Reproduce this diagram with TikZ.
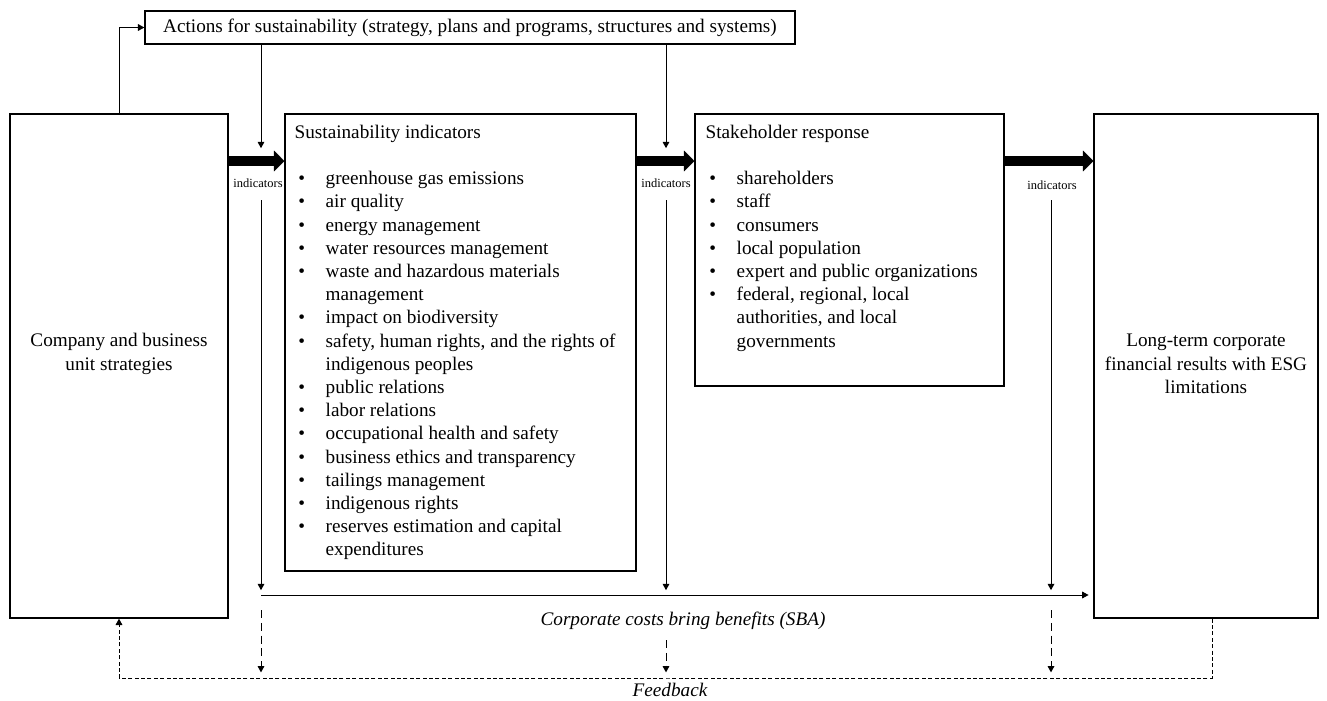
\documentclass[tikz,border=0pt]{standalone}
\usepackage{fontspec}
\setmainfont{Liberation Serif}
\usetikzlibrary{arrows.meta,fit}
\newcommand\basefont{\fontsize{12}{14.5}\selectfont}
\newcommand\bitem{\makebox[19.4pt][l]{\hspace{2.3pt}\textbullet}}
\newcommand\bcont{\hspace*{19.4pt}}
\tikzset{
  every node/.style={font=\basefont},
  frame/.style={draw, line width=0.8pt, inner sep=0pt},
  arr/.style={line width=0.6pt, -{Triangle[length=4pt,width=4.2pt]}},
  darr/.style={arr, dash pattern=on 5pt off 3pt},
  fbk/.style={line width=0.6pt, dash pattern=on 2.5pt off 1.5pt, -{Triangle[length=4pt,width=4.2pt]}},
  fat/.style={line width=6.5pt, -{Triangle[length=6.5pt,width=13pt,line width=0.1pt]}},
  lbl/.style={font=\fontsize{7.8}{9}\selectfont, inner sep=0pt},
  note/.style={font=\basefont\itshape, inner sep=0pt},
  listtxt/.style={anchor=base west, inner sep=0pt}
}

\begin{document}
\begin{tikzpicture}[x=0.625pt, y=-0.625pt]
  \useasboundingbox (0,0) rectangle (1327,701);
  \node[frame, fit={(145,11) (795,44)}] (act) {};
  \node (acttxt) at (act.center) {Actions for sustainability (strategy, plans and programs, structures and systems)};
  \node[frame, fit={(10,114) (228,618)}] (comp) {};
  \node[align=center] (comptxt) at ([shift={(0,-12)}]comp.center) {Company and business\\unit strategies};
  \node[frame, fit={(285,114) (636,571)}] (sust) {};
  \node[listtxt] (susttxt) at ([shift={(10,25)}]sust.north west) {\begin{tabular}[t]{@{}l@{}}
    Sustainability indicators\\
    \\
    \bitem greenhouse gas emissions\\
    \bitem air quality\\
    \bitem energy management\\
    \bitem water resources management\\
    \bitem waste and hazardous materials\\
    \bcont management\\
    \bitem impact on biodiversity\\
    \bitem safety, human rights, and the rights of\\
    \bcont indigenous peoples\\
    \bitem public relations\\
    \bitem labor relations\\
    \bitem occupational health and safety\\
    \bitem business ethics and transparency\\
    \bitem tailings management\\
    \bitem indigenous rights\\
    \bitem reserves estimation and capital\\
    \bcont expenditures
  \end{tabular}};
  \node[frame, fit={(695,114) (1004,386)}] (stake) {};
  \node[listtxt] (staketxt) at ([shift={(11,25)}]stake.north west) {\begin{tabular}[t]{@{}l@{}}
    Stakeholder response\\
    \\
    \bitem shareholders\\
    \bitem staff\\
    \bitem consumers\\
    \bitem local population\\
    \bitem expert and public organizations\\
    \bitem federal, regional, local\\
    \bcont authorities, and local\\
    \bcont governments
  \end{tabular}};
  \node[frame, fit={(1094,114) (1318,618)}] (long) {};
  \node[align=center] (longtxt) at ([shift={(0,-2)}]long.center) {Long-term corporate\\financial results with ESG\\limitations};

  \coordinate (row) at (0,161);
  \coordinate (c1) at (261,200);
  \coordinate (c2) at (666,200);
  \coordinate (c3) at (1051,200);
  \coordinate (sba) at (261,595);
  \coordinate (dtop) at (0,610);
  \coordinate (dmid) at (0,640);
  \coordinate (fb) at (666,678);

  \node[lbl] (ind1) at (258,183) {indicators};
  \node[lbl] (ind2) at (666,183) {indicators};
  \node[lbl] (ind3) at (1052,185) {indicators};

  \draw[arr] (comp.north) |- (act.west);
  \draw[arr, shorten >=8pt] (act.south -| c1) -- (c1 |- row);
  \draw[arr, shorten >=8pt] (act.south -| c2) -- (c2 |- row);

  \draw[fat] (comp.east |- row) -- (sust.west |- row);
  \draw[fat] (sust.east |- row) -- (stake.west |- row);
  \draw[fat] (stake.east |- row) -- (long.west |- row);

  \draw[arr, shorten >=3pt] (c1) -- (c1 |- sba);
  \draw[arr, shorten >=3pt] (c2) -- (c2 |- sba);
  \draw[arr, shorten >=3pt] (c3) -- (c3 |- sba);
  \draw[arr, shorten >=3pt] (sba) -- (sba -| long.west);
  \node[note] (sbatxt) at (683,621) {Corporate costs bring benefits (SBA)};

  \draw[darr, shorten >=3.5pt] (c1 |- dtop) -- (c1 |- fb);
  \draw[darr, shorten >=3.5pt] (c2 |- dmid) -- (c2 |- fb);
  \draw[darr, shorten >=3.5pt] (c3 |- dtop) -- (c3 |- fb);
  \draw[fbk] ([xshift=3.75pt]long.south) |- (fb) -| (comp.south);
  \node[note] (fbtxt) at (670,690) {Feedback};
\end{tikzpicture}
\end{document}
